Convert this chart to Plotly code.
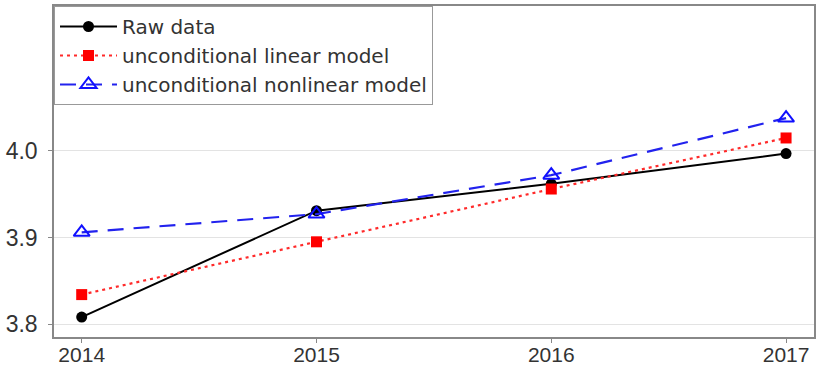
import plotly.graph_objects as go

years = [2014, 2015, 2016, 2017]
raw_data = [3.808, 3.931, 3.962, 3.997]
linear_model = [3.834, 3.895, 3.956, 4.015]
nonlinear_model = [3.906, 3.927, 3.972, 4.038]

fig = go.Figure()
fig.add_trace(go.Scatter(x=years, y=raw_data, name="Raw data", mode="lines+markers",
                         line=dict(color="black", width=2),
                         marker=dict(symbol="circle", size=11, color="black")))
fig.add_trace(go.Scatter(x=years, y=linear_model, name="unconditional linear model", mode="lines+markers",
                         line=dict(color="#ff2a2a", width=2.2, dash="3px,4px"),
                         marker=dict(symbol="square", size=11, color="#ff0000")))
fig.add_trace(go.Scatter(x=years, y=nonlinear_model, name="unconditional nonlinear model", mode="lines+markers",
                         line=dict(color="#2222ee", width=2.2, dash="16px,10px"),
                         marker=dict(symbol="triangle-up-open", size=14, color="#1010ff", line=dict(width=2))))

fig.update_layout(
    width=819, height=366,
    margin=dict(l=54, r=5, t=6, b=29, autoexpand=False),
    paper_bgcolor="white", plot_bgcolor="white",
    font=dict(family="Liberation Sans, Arial", size=22, color="#333333"),
    legend=dict(x=0, y=1, xanchor="left", yanchor="top",
                bgcolor="white", bordercolor="#999999", borderwidth=1,
                font=dict(family="DejaVu Sans", size=20, color="#333333"), tracegroupgap=0,
                itemwidth=57),
    showlegend=True,
)
fig.update_xaxes(range=[2013.882, 2017.119], tickvals=years, ticktext=[str(y) for y in years],
                 showgrid=False, zeroline=False, showline=True, linecolor="#888888", linewidth=1.5,
                 mirror=True, ticks="outside", ticklen=4, tickcolor="#888888", automargin=False,
                 ticklabelstandoff=-6,
                 tickfont=dict(size=21, color="#333333"))
fig.update_yaxes(range=[3.785, 4.1675], tickvals=[3.8, 3.9, 4.0], ticktext=["3.8", "3.9", "4.0"],
                 showgrid=True, gridcolor="#e3e3e3", gridwidth=1, zeroline=False,
                 showline=True, linecolor="#888888", linewidth=1.5, mirror=True,
                 ticks="outside", ticklen=4, tickcolor="#888888", automargin=False,
                 ticklabelstandoff=6,
                 tickfont=dict(size=23, color="#333333"))

fig.write_html("out.html")
